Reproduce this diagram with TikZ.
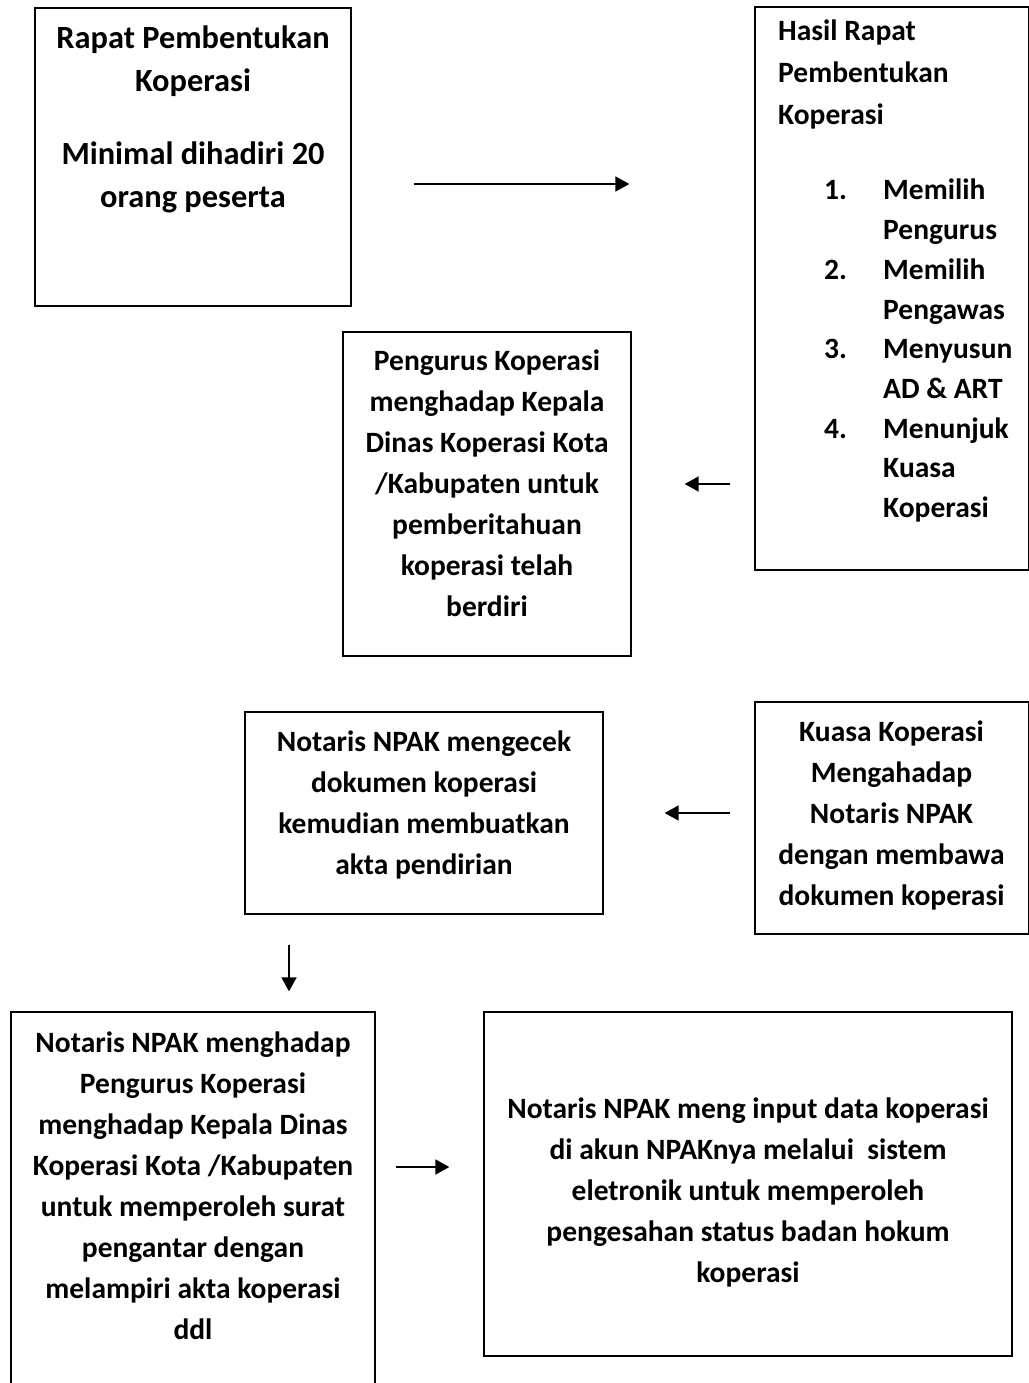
\documentclass[tikz,border=0pt]{standalone}
\usepackage{fontspec}
\setmainfont{Carlito}
\usetikzlibrary{arrows.meta}

\begin{document}
\begin{tikzpicture}[x=1pt,y=-1pt,
  box/.style={draw=black,line width=1.3pt,inner sep=0pt},
  txt/.style={inner sep=0pt,align=flush center,font=\fontsize{29.5}{41}\selectfont\bfseries},
  arr/.style={-{Triangle[length=14pt,width=15pt]},line width=1.8pt}]

%SPACING
\useasboundingbox (0,0) rectangle (1028,1383);
%SPACING

\node[box,minimum width=316pt,minimum height=298pt](v1) at (193,157) {};
\node[box,minimum width=274pt,minimum height=563pt](v2) at (892,288.5) {};
\node[box,minimum width=288pt,minimum height=324pt](v3) at (487,494) {};
\node[box,minimum width=358pt,minimum height=202pt](v4) at (424,813) {};
\node[box,minimum width=274pt,minimum height=232pt](v5) at (892,818) {};
\node[box,minimum width=364pt,minimum height=388pt](v6) at (193,1206) {};
\node[box,minimum width=528pt,minimum height=344pt](v7) at (748,1184) {};

%TEXT
\node[txt,font=\fontsize{32.4}{43}\selectfont\bfseries,text width=310pt,anchor=base](t1) at (193,49)
  {Rapat Pembentukan\\ Koperasi\\[30pt] Minimal dihadiri 20\\ orang peserta};
\node[txt,align=flush left,font=\fontsize{29.5}{42}\selectfont\bfseries,text width=240pt,anchor=base west](t2) at (778,41)
  {Hasil Rapat\\ Pembentukan\\ Koperasi};
\node[txt,align=flush left,font=\fontsize{29.5}{39.7}\selectfont\bfseries,text width=200pt,anchor=base west](l2) at (824,200)
  {\makebox[59pt][l]{1.}Memilih\\ \hspace*{59pt}Pengurus\\
   \makebox[59pt][l]{2.}Memilih\\ \hspace*{59pt}Pengawas\\
   \makebox[59pt][l]{3.}Menyusun\\ \hspace*{59pt}AD \& ART\\
   \makebox[59pt][l]{4.}Menunjuk\\ \hspace*{59pt}Kuasa\\ \hspace*{59pt}Koperasi};
\node[txt,text width=280pt,anchor=base](t3) at (487,370)
  {Pengurus Koperasi\\ menghadap Kepala\\ Dinas Koperasi Kota\\ /Kabupaten untuk\\ pemberitahuan\\ koperasi telah\\ berdiri};
\node[txt,text width=350pt,anchor=base](t4) at (424,751)
  {Notaris NPAK mengecek\\ dokumen koperasi\\ kemudian membuatkan\\ akta pendirian};
\node[txt,text width=270pt,anchor=base](t5) at (891.5,741)
  {Kuasa Koperasi\\ Mengahadap\\ Notaris NPAK\\ dengan membawa\\ dokumen koperasi};
\node[txt,text width=360pt,anchor=base](t6) at (193,1052)
  {Notaris NPAK menghadap\\ Pengurus Koperasi\\ menghadap Kepala Dinas\\ Koperasi Kota /Kabupaten\\ untuk memperoleh surat\\ pengantar dengan\\ melampiri akta koperasi\\ ddl};
\node[txt,text width=520pt,anchor=base](t7) at (748,1118)
  {Notaris NPAK meng input data koperasi\\ di akun NPAKnya melalui\ \ sistem\\ eletronik untuk memperoleh\\ pengesahan status badan hokum\\ koperasi};

%ARROWS
\draw[arr,shorten <=62pt,shorten >=125pt] ([yshift=-27pt]v1.east) -- ([yshift=-27pt]v1.east -| v2.west);
\draw[arr,shorten <=24pt,shorten >=53pt] ([yshift=10pt]v3.east -| v2.west) -- ([yshift=10pt]v3.east);
\draw[arr,shorten <=24pt,shorten >=61pt] (v4.east -| v5.west) -- (v4.east);
\draw[arr,shorten <=30pt,shorten >=20pt] ([xshift=-135pt]v4.south) -- ([xshift=-135pt]v4.south |- v6.north);
\draw[arr,shorten <=20pt,shorten >=34pt] ([yshift=39pt]v6.east) -- ([yshift=39pt]v6.east -| v7.west);

\end{tikzpicture}
\end{document}
